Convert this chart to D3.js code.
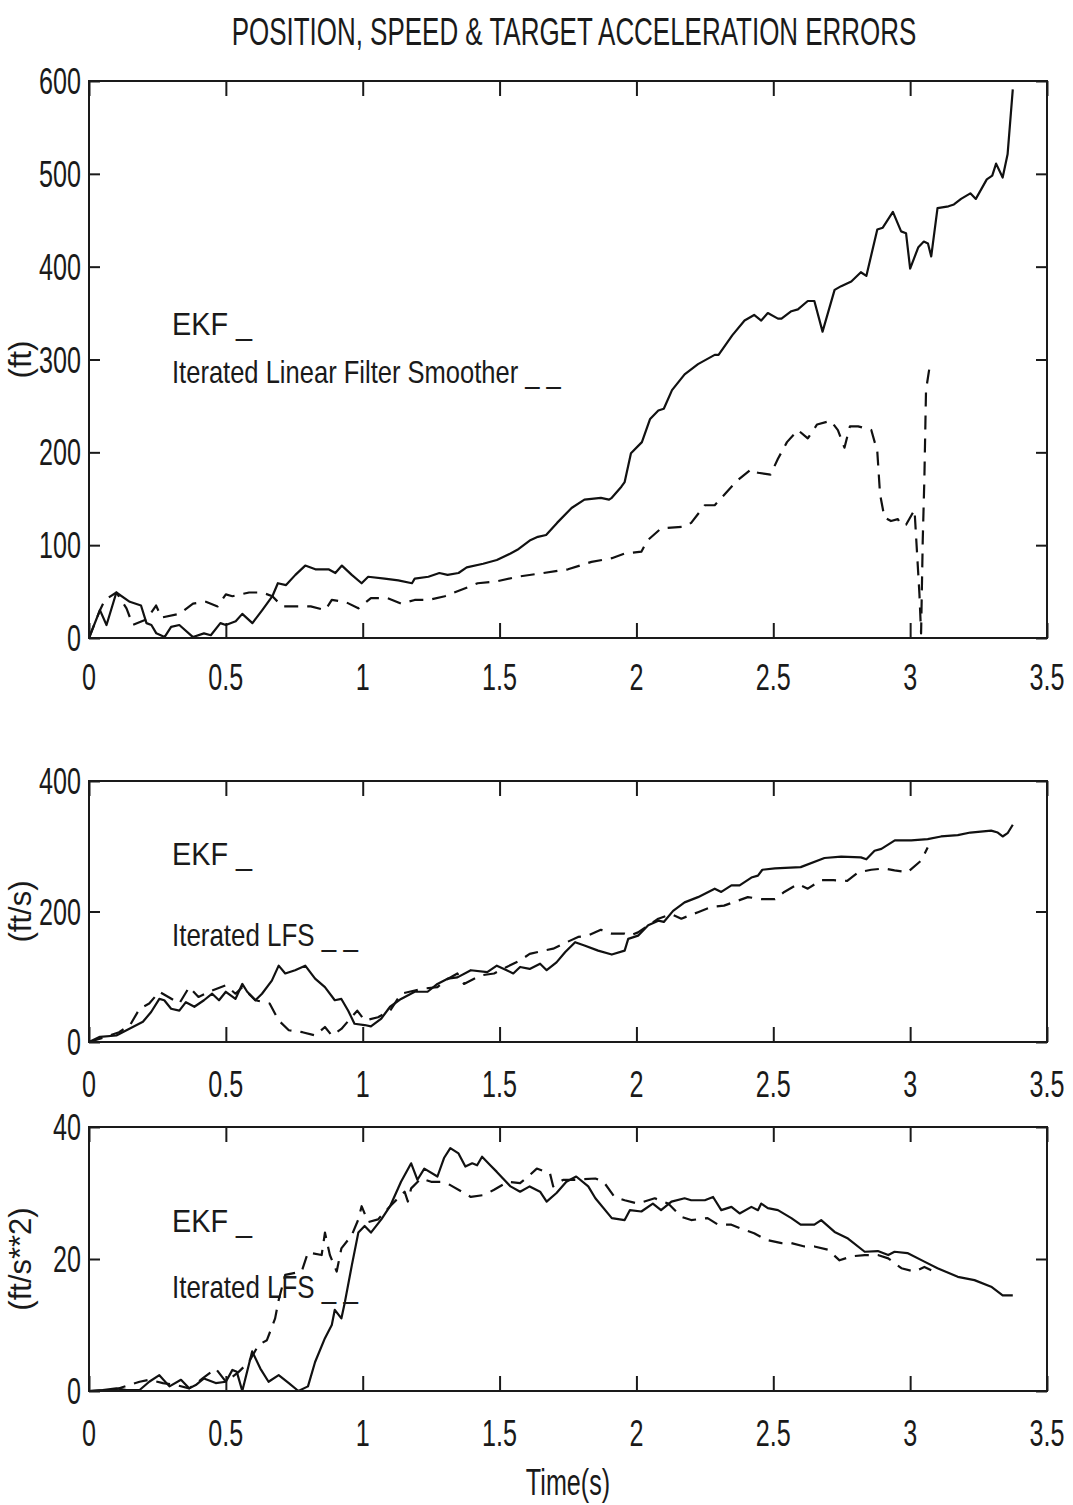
<!DOCTYPE html>
<html><head><meta charset="utf-8">
<script src="https://cdn.jsdelivr.net/npm/d3@7"></script>
<style>body{margin:0;background:#fff}text{font-family:"Liberation Sans",Arial,Helvetica,sans-serif;fill:#1a1a1a}</style>
</head><body><svg id="c" width="1073" height="1505"></svg>
<script>
// ---------- data ----------
const xTicks = [0, 0.5, 1, 1.5, 2, 2.5, 3, 3.5];
const xTickLabels = ["0", "0.5", "1", "1.5", "2", "2.5", "3", "3.5"];
const posTicks = [0, 100, 200, 300, 400, 500, 600];
const spdTicks = [0, 200, 400];
const accTicks = [0, 20, 40];
const titleText = "POSITION, SPEED & TARGET ACCELERATION ERRORS";
const xLabel = "Time(s)";
const yLabels = ["(ft)", "(ft/s)", "(ft/s**2)"];
const legendEkf = "EKF _";
const legendLfs = ["Iterated Linear Filter Smoother _ _", "Iterated LFS _ _", "Iterated LFS _ _"];

// Position error (ft)
const posEkfT = [0,0.04,0.064,0.10,0.149,0.19,0.21,0.228,0.246,0.276,0.30,0.33,0.38,0.42,0.445,0.48,0.50,0.536,0.56,0.597,0.633,0.67,0.69,0.72,0.754,0.79,0.827,0.875,0.9,0.924,0.96,0.996,1.02,1.08,1.13,1.18,1.19,1.24,1.28,1.31,1.35,1.38,1.44,1.49,1.54,1.565,1.61,1.64,1.67,1.71,1.763,1.81,1.87,1.9,1.91,1.945,1.957,1.98,2.02,2.05,2.08,2.10,2.13,2.176,2.225,2.286,2.3,2.35,2.395,2.43,2.456,2.48,2.517,2.53,2.566,2.59,2.626,2.65,2.68,2.724,2.748,2.785,2.82,2.84,2.88,2.90,2.937,2.967,2.985,3.0,3.03,3.05,3.065,3.077,3.10,3.14,3.16,3.186,3.22,3.24,3.28,3.30,3.314,3.338,3.356,3.375];
const posEkfV = [0,30,14,49,39,35,16,14,5,1,12,14,1,5,3,16,14,18,26,16,30,45,59,57,68,78,74,74,70,78,68,59,66,64,62,59,64,66,70,68,70,76,80,84,91,95,105,109,111,124,140,149,151,149,151,163,168,199,211,236,245,247,267,284,295,305,305,326,342,348,342,350,344,344,352,354,363,363,330,375,379,384,394,390,440,442,459,438,436,398,421,427,425,411,463,465,467,473,479,473,494,498,511,496,521,591];
const posLfsT = [0,0.04,0.058,0.10,0.137,0.16,0.21,0.245,0.265,0.33,0.38,0.427,0.47,0.50,0.524,0.585,0.633,0.67,0.706,0.766,0.81,0.863,0.887,0.936,0.984,1.03,1.09,1.14,1.19,1.24,1.30,1.37,1.42,1.49,1.565,1.66,1.75,1.836,1.91,1.957,2.018,2.04,2.09,2.176,2.2,2.25,2.286,2.335,2.37,2.42,2.444,2.49,2.517,2.55,2.59,2.626,2.66,2.71,2.736,2.76,2.78,2.81,2.858,2.88,2.89,2.906,2.93,2.955,2.967,2.985,3.016,3.02,3.034,3.04,3.046,3.052,3.058,3.07];
const posLfsV = [0,30,41,49,32,14,20,35,22,26,37,39,34,47,45,49,49,45,34,34,34,30,41,39,32,43,43,37,41,41,45,53,59,61,66,70,74,82,86,91,93,105,118,120,124,143,143,159,170,182,178,176,193,211,224,215,230,234,224,205,228,228,224,201,155,130,126,128,122,122,138,118,47,5,105,172,267,290];

// Speed error (ft/s)
const spdEkfT = [0,0.04,0.10,0.137,0.197,0.227,0.257,0.275,0.30,0.33,0.354,0.385,0.42,0.45,0.475,0.50,0.535,0.56,0.578,0.608,0.632,0.668,0.693,0.717,0.753,0.79,0.826,0.862,0.898,0.922,0.947,0.97,1.007,1.03,1.068,1.10,1.14,1.19,1.237,1.273,1.31,1.346,1.395,1.455,1.49,1.526,1.55,1.575,1.61,1.648,1.672,1.708,1.74,1.776,1.81,1.86,1.91,1.957,1.97,2.006,2.043,2.08,2.10,2.134,2.176,2.225,2.286,2.31,2.347,2.377,2.42,2.444,2.46,2.506,2.60,2.687,2.748,2.82,2.84,2.87,2.895,2.944,3.004,3.064,3.113,3.174,3.22,3.296,3.32,3.338,3.356,3.375];
const spdEkfV = [0,8,10,18,31,46,66,64,51,48,61,54,64,74,64,77,66,89,77,64,74,94,117,105,110,117,97,84,64,66,48,28,26,24,36,54,66,77,77,89,97,99,110,107,117,110,105,115,112,120,110,122,138,153,148,140,134,140,158,163,179,186,184,201,214,222,235,230,240,240,252,255,264,266,268,282,284,283,280,293,296,309,309,311,315,317,321,324,321,315,320,333];
const spdLfsT = [0,0.04,0.11,0.15,0.185,0.22,0.257,0.29,0.33,0.366,0.40,0.45,0.50,0.535,0.56,0.608,0.66,0.693,0.73,0.78,0.826,0.862,0.887,0.922,0.98,1.007,1.056,1.10,1.14,1.19,1.225,1.273,1.30,1.346,1.37,1.43,1.48,1.526,1.575,1.61,1.66,1.696,1.73,1.787,1.823,1.87,1.91,1.957,1.976,2.006,2.08,2.128,2.164,2.225,2.274,2.32,2.407,2.456,2.506,2.54,2.59,2.626,2.675,2.72,2.77,2.81,2.858,2.906,2.943,2.99,3.04,3.064];
const spdLfsV = [0,5,15,26,51,59,77,69,59,84,69,79,87,74,84,64,59,33,18,15,10,23,10,20,48,33,38,48,74,79,82,84,94,105,89,102,105,115,125,135,140,143,150,161,163,172,166,166,163,168,189,196,189,199,207,209,222,219,219,230,242,235,248,248,247,260,264,266,263,260,278,298];

// Target acceleration error (ft/s**2)
const accEkfT = [0,0.05,0.10,0.137,0.185,0.22,0.257,0.294,0.336,0.366,0.39,0.42,0.463,0.50,0.524,0.54,0.56,0.596,0.626,0.656,0.693,0.73,0.765,0.80,0.826,0.862,0.887,0.898,0.922,0.935,0.96,0.984,1.007,1.03,1.068,1.10,1.14,1.177,1.20,1.225,1.273,1.297,1.32,1.35,1.375,1.40,1.418,1.436,1.466,1.49,1.54,1.575,1.61,1.648,1.672,1.708,1.744,1.78,1.824,1.85,1.91,1.957,1.976,2.018,2.06,2.09,2.128,2.176,2.2,2.25,2.28,2.31,2.347,2.377,2.42,2.444,2.456,2.48,2.517,2.566,2.60,2.65,2.675,2.724,2.773,2.834,2.882,2.92,2.943,2.99,3.052,3.1,3.174,3.235,3.296,3.338,3.375];
const accEkfV = [0,0.15,0.4,0.15,0.15,1.4,2.4,0.7,1.7,0.4,0.9,1.9,1.2,1.4,3.2,2.9,0,6,3.4,1.4,2.4,1.2,0,0.7,4.4,8,10,12.3,11,13.5,19,24,25,24,26,28,31.7,34.5,32,33.7,32.5,35.3,36.8,36,34,34.5,34.2,35.5,34.2,33.2,31,30.2,31,30.2,28.7,30,31.7,32.5,31,29.2,26.2,25.9,27.4,27.2,28.4,27.4,28.7,29.2,28.9,28.9,29.4,27.4,27.9,26.9,27.9,27.4,28.4,27.7,27.4,26.2,25.2,25.2,25.9,24.1,23.1,21.1,21.2,20.6,21.1,20.9,19.6,18.6,17.3,16.8,15.8,14.5,14.5];
const accLfsT = [0,0.09,0.185,0.22,0.27,0.318,0.366,0.415,0.463,0.50,0.547,0.584,0.62,0.65,0.68,0.693,0.717,0.777,0.80,0.85,0.862,0.88,0.905,0.922,0.96,0.984,0.996,1.02,1.056,1.10,1.153,1.165,1.177,1.213,1.25,1.285,1.32,1.37,1.395,1.444,1.48,1.53,1.575,1.61,1.636,1.684,1.696,1.732,1.775,1.85,1.88,1.92,1.957,2.006,2.067,2.116,2.164,2.2,2.26,2.298,2.347,2.383,2.43,2.474,2.53,2.566,2.614,2.65,2.70,2.742,2.785,2.834,2.882,2.92,2.968,3.016,3.052,3.077];
const accLfsV = [0,0.15,1.4,1.7,1.2,0.9,0.4,1.9,3.4,1.4,2.9,4.4,7,7.7,11,13.8,17.6,18.1,21,20.6,24,20.6,18.1,21.6,23.6,26,28,25.6,26,28,30.2,28.7,30.7,32.2,31.7,31.7,31.2,30,29.4,29.7,30.5,31.7,31.5,32.7,33.7,33,31,32,32,32.2,31.7,29.4,28.9,28.4,29.2,28.4,26.4,25.9,26.2,25.2,25.2,24.6,23.9,22.9,22.4,22.4,21.9,21.9,21.4,19.8,20.4,20.6,20.6,20.1,18.6,18.1,18.8,18.3];

// ---------- layout ----------
const svg = d3.select("#c");
const L = 89, R = 1047;
const x = d3.scaleLinear().domain([0, 3.5]).range([L, R]);
const ink = "#1a1a1a";

function ntext(g, px, py, str, size, sx, anchor) {
  return g.append("text")
    .attr("transform", `translate(${px},${py}) scale(${sx},1)`)
    .attr("text-anchor", anchor).attr("font-size", size).text(str);
}
function fitText(g, px, py, str, size, width, anchor) {
  const t = g.append("text").attr("text-anchor", anchor).attr("font-size", size).text(str);
  const w = t.node().getComputedTextLength();
  t.attr("transform", `translate(${px},${py}) scale(${width / w},1)`);
  return t;
}

fitText(svg, 574, 45, titleText, 38, 685, "middle");

const panels = [
  {top: 81, bottom: 638, max: 600, ticks: posTicks, series: [[posEkfT, posEkfV, false], [posLfsT, posLfsV, true]],
   ylab: yLabels[0], legY: [335, 383], lfs: legendLfs[0], lfsW: 389, lblY: 690},
  {top: 781, bottom: 1042, max: 400, ticks: spdTicks, series: [[spdEkfT, spdEkfV, false], [spdLfsT, spdLfsV, true]],
   ylab: yLabels[1], legY: [865, 946], lfs: legendLfs[1], lfsW: 186, lblY: 1097},
  {top: 1127, bottom: 1391, max: 40, ticks: accTicks, series: [[accEkfT, accEkfV, false], [accLfsT, accLfsV, true]],
   ylab: yLabels[2], legY: [1232, 1298], lfs: legendLfs[2], lfsW: 186, lblY: 1446}
];

panels.forEach(p => {
  const y = d3.scaleLinear().domain([0, p.max]).range([p.bottom, p.top]);
  const g = svg.append("g");
  const H = p.bottom - p.top, W = R - L;

  const ax = [
    [d3.axisBottom(x).tickValues(xTicks).tickSize(-15), `translate(0,${p.bottom})`],
    [d3.axisTop(x).tickValues(xTicks).tickSize(-15), `translate(0,${p.top})`],
    [d3.axisLeft(y).tickValues(p.ticks).tickSize(-11), `translate(${L},0)`],
    [d3.axisRight(y).tickValues(p.ticks).tickSize(-11), `translate(${R},0)`]
  ];
  ax.forEach(([a, tr]) => {
    const ag = g.append("g").attr("transform", tr).call(a.tickFormat(""));
    ag.select(".domain").remove();
    ag.selectAll("line").attr("stroke", ink).attr("stroke-width", 2);
  });

  p.series.forEach(([T, V, dashed]) => {
    const pts = T.map((t, i) => [t, V[i]]);
    g.append("path").datum(pts)
      .attr("d", d3.line().x(d => x(d[0])).y(d => y(d[1])))
      .attr("fill", "none").attr("stroke", "#111").attr("stroke-width", 2.2)
      .attr("stroke-linejoin", "round")
      .attr("stroke-dasharray", dashed ? "14,9" : null);
  });

  g.append("rect").attr("x", L).attr("y", p.top).attr("width", W).attr("height", H)
    .attr("fill", "none").attr("stroke", ink).attr("stroke-width", 2);

  xTicks.forEach((t, i) => ntext(g, x(t), p.lblY, xTickLabels[i], 37, 0.68, "middle"));
  p.ticks.forEach(v => ntext(g, 81, y(v) + 13, String(v), 37, 0.68, "end"));

  g.append("text").attr("transform", `translate(31,${(p.top + p.bottom) / 2}) rotate(-90)`)
    .attr("text-anchor", "middle").attr("font-size", 31).text(p.ylab);

  fitText(g, 172, p.legY[0], legendEkf, 32, 80, "start");
  fitText(g, 172, p.legY[1], p.lfs, 32, p.lfsW, "start");
});

ntext(svg, 568, 1495, xLabel, 37, 0.68, "middle");
</script></body></html>
